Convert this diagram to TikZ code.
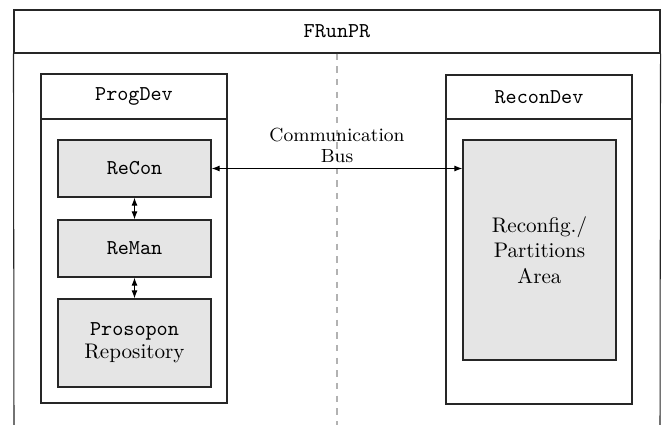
\documentclass[tikz,border=0pt]{standalone}
\usepackage{fontspec}
\usetikzlibrary{arrows.meta}
\def\U{0.4735pt}
\tikzset{
  box/.style={draw=black!85, line width=0.5pt, rectangle, inner sep=0pt, align=center},
  panel/.style={box, minimum width=186*\U},
  unit/.style={box, fill=black!10, minimum width=153*\U},
  link/.style={line width=0.5pt, {Latex[length=3.8pt,width=2.8pt]}-{Latex[length=3.8pt,width=2.8pt]}},
  divider/.style={draw=black!30, line width=0.6pt, dashed},
  rim/.style={draw=black!85, line width=0.5pt},
}
\begin{document}
\begin{tikzpicture}[x=\U, y=-\U]
\useasboundingbox (0,0) rectangle (662,425);

% outer frame with title bar, open at the bottom
\node[box, minimum width=646*\U, minimum height=43*\U] (frun) at (337,31.5) {\ttfamily FRunPR};
\coordinate (frunbl) at (14,425);
\coordinate (frunbr) at (660,425);
\coordinate (divbot) at (337,425);
\draw[divider] (frun.south) -- (divbot);
\draw[rim] (frun.south west) -- (frunbl);
\draw[rim] (frun.south east) -- (frunbr);

% programmable device
\node[panel, minimum height=45*\U] (proghead) at (134,96.5) {\ttfamily ProgDev};
\node[panel, minimum height=284*\U] (progbody) at (134,261) {};
\node[unit, minimum height=57*\U] (recon) at (134.5,168.5) {\ttfamily ReCon};
\node[unit, minimum height=57*\U] (reman) at (134.5,248.5) {\ttfamily ReMan};
\node[unit, minimum height=88*\U] (repo) at (134.5,343) {{\ttfamily Prosopon}\\[-1pt]Repository};

% reconfigurable device
\node[panel, minimum height=44*\U] (reconhead) at (539,97) {\ttfamily ReconDev};
\node[panel, minimum height=285*\U] (reconbody) at (539,261.5) {};
\node[unit, minimum height=220*\U] (area) at (539.5,250) {Reconfig./\\Partitions\\Area};

% connections
\draw[link] (recon.south) -- (reman.north);
\draw[link] (reman.south) -- (repo.north);
\draw[link] (recon.east) -- (recon.east -| area.west)
  node[midway, above=-0.8pt, align=center, font=\small] (bus) {Communication\\[-1pt]Bus};
\end{tikzpicture}
\end{document}
